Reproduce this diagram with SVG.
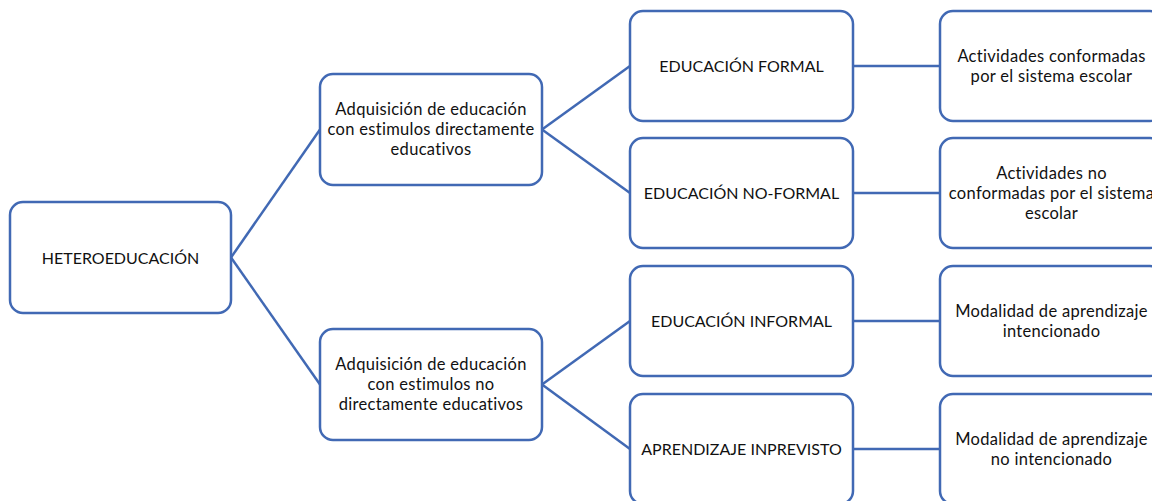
<svg xmlns="http://www.w3.org/2000/svg" width="1152" height="501" viewBox="0 0 1152 501">
<style>
.box{fill:#ffffff;stroke:#4169B4;stroke-width:2.5}
.con{stroke:#4169B4;stroke-width:2.5;fill:none}
text{font-family:Lato,"Liberation Sans",Arial,sans-serif;font-size:16px;fill:#111111;text-anchor:middle;dominant-baseline:central}
text.lc{font-size:16.5px;letter-spacing:0.3px}
</style>
<rect width="1152" height="501" fill="#ffffff"/>
<g id="connectors">
<line class="con" x1="231" y1="257.5" x2="320" y2="129.5"/>
<line class="con" x1="231" y1="257.5" x2="320" y2="384.5"/>
<line class="con" x1="542" y1="129.5" x2="630" y2="66"/>
<line class="con" x1="542" y1="129.5" x2="630" y2="193"/>
<line class="con" x1="542" y1="384.5" x2="630" y2="321"/>
<line class="con" x1="542" y1="384.5" x2="630" y2="449"/>
<line class="con" x1="853" y1="66" x2="940" y2="66"/>
<line class="con" x1="853" y1="193" x2="940" y2="193"/>
<line class="con" x1="853" y1="321" x2="940" y2="321"/>
<line class="con" x1="853" y1="449" x2="940" y2="449"/>
</g>
<g id="n-hetero">
<rect class="box" x="10" y="202" width="221" height="111" rx="13"/>
<text x="120.5" y="257">HETEROEDUCACIÓN</text>
</g>
<g id="n-directos">
<rect class="box" x="320" y="74" width="222" height="111" rx="13"/>
<text class="lc" x="431" y="109">Adquisición de educación</text>
<text class="lc" x="431" y="129">con estimulos directamente</text>
<text class="lc" x="431" y="149">educativos</text>
</g>
<g id="n-nodirectos">
<rect class="box" x="320" y="329" width="222" height="111" rx="13"/>
<text class="lc" x="431" y="364">Adquisición de educación</text>
<text class="lc" x="431" y="384">con estimulos no</text>
<text class="lc" x="431" y="404">directamente educativos</text>
</g>
<g id="n-formal">
<rect class="box" x="630" y="11" width="223" height="110" rx="13"/>
<text x="741.5" y="65.5">EDUCACIÓN FORMAL</text>
</g>
<g id="n-noformal">
<rect class="box" x="630" y="138" width="223" height="110" rx="13"/>
<text x="741.5" y="192.5">EDUCACIÓN NO-FORMAL</text>
</g>
<g id="n-informal">
<rect class="box" x="630" y="266" width="223" height="110" rx="13"/>
<text x="741.5" y="320.5">EDUCACIÓN INFORMAL</text>
</g>
<g id="n-imprevisto">
<rect class="box" x="630" y="394" width="223" height="110" rx="13"/>
<text x="741.5" y="448.5">APRENDIZAJE INPREVISTO</text>
</g>
<g id="n-conformadas">
<rect class="box" x="940" y="11" width="223" height="110" rx="13"/>
<text class="lc" x="1051.5" y="55.5">Actividades conformadas</text>
<text class="lc" x="1051.5" y="75.5">por el sistema escolar</text>
</g>
<g id="n-noconformadas">
<rect class="box" x="940" y="138" width="223" height="110" rx="13"/>
<text class="lc" x="1051.5" y="172.5">Actividades no</text>
<text class="lc" x="1051.5" y="192.5">conformadas por el sistema</text>
<text class="lc" x="1051.5" y="212.5">escolar</text>
</g>
<g id="n-intencionado">
<rect class="box" x="940" y="266" width="223" height="110" rx="13"/>
<text class="lc" x="1051.5" y="310.5">Modalidad de aprendizaje</text>
<text class="lc" x="1051.5" y="330.5">intencionado</text>
</g>
<g id="n-nointencionado">
<rect class="box" x="940" y="394" width="223" height="110" rx="13"/>
<text class="lc" x="1051.5" y="438.5">Modalidad de aprendizaje</text>
<text class="lc" x="1051.5" y="458.5">no intencionado</text>
</g>
</svg>
